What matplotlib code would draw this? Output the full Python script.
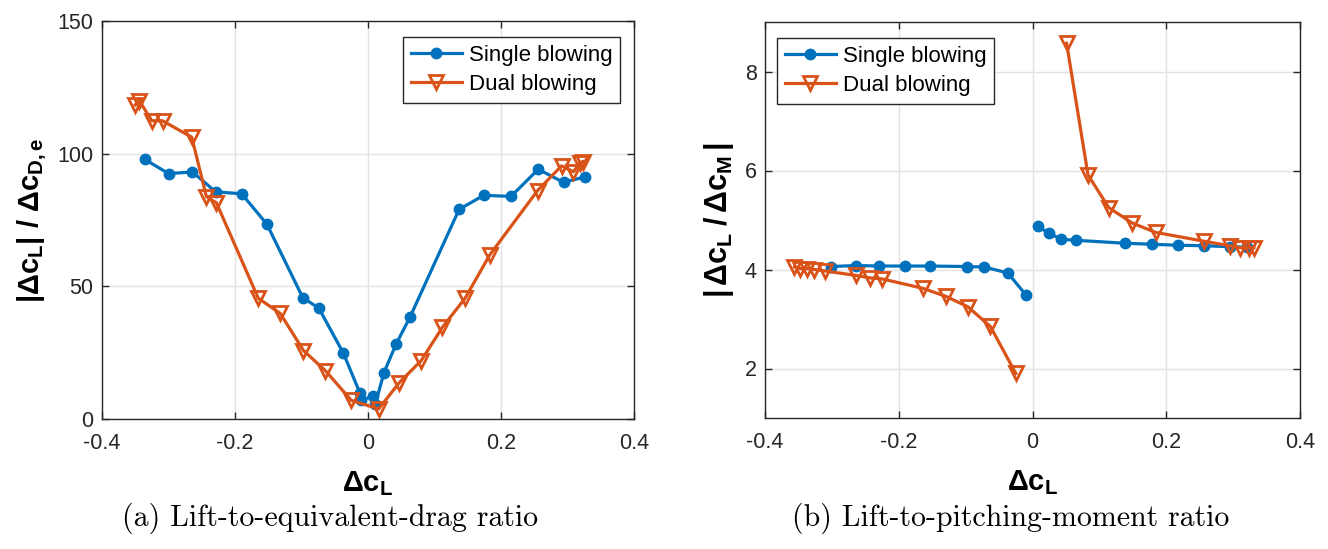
import numpy as np
import matplotlib
matplotlib.use("Agg")
import matplotlib.pyplot as plt

plt.rcParams['font.family'] = ['Liberation Sans', 'DejaVu Sans']
plt.rcParams['mathtext.fontset'] = 'custom'
plt.rcParams['mathtext.rm'] = 'Liberation Sans'
plt.rcParams['mathtext.bf'] = 'Liberation Sans:bold'
plt.rcParams['mathtext.it'] = 'Liberation Sans:italic'

BLUE = '#0072BD'
ORANGE = '#D95319'

# ---- Panel (a): lift-to-equivalent-drag ratio ----
a_single_x = [-0.336, -0.300, -0.264, -0.229, -0.190, -0.152, -0.098, -0.074, -0.037,
              -0.012, -0.010, 0.007, 0.011, 0.024, 0.042, 0.063, 0.137, 0.174, 0.215,
              0.256, 0.294, 0.327]
a_single_y = [97.9, 92.5, 93.1, 85.6, 84.9, 73.4, 45.7, 41.8, 24.8,
              9.7, 7.2, 8.5, 5.5, 17.5, 28.1, 38.3, 79.0, 84.3, 83.9,
              94.1, 89.2, 91.3]
a_dual_x = [-0.350, -0.344, -0.325, -0.309, -0.265, -0.243, -0.228, -0.165, -0.132,
            -0.097, -0.064, -0.025, 0.016, 0.047, 0.080, 0.112, 0.146, 0.183, 0.255,
            0.291, 0.309, 0.319, 0.323]
a_dual_y = [118.4, 120.0, 112.4, 112.4, 106.2, 83.8, 81.5, 45.5, 39.8,
            25.8, 18.2, 7.0, 3.8, 13.7, 22.0, 34.6, 45.5, 61.8, 86.1,
            95.4, 93.2, 96.6, 97.0]

# ---- Panel (b): lift-to-pitching-moment ratio (negative / positive branches) ----
b_single_neg_x = [-0.302, -0.264, -0.229, -0.190, -0.153, -0.098, -0.072, -0.037, -0.010]
b_single_neg_y = [4.06, 4.08, 4.07, 4.07, 4.07, 4.06, 4.05, 3.93, 3.49]
b_single_pos_x = [0.008, 0.025, 0.043, 0.065, 0.139, 0.178, 0.218, 0.257, 0.296, 0.321]
b_single_pos_y = [4.87, 4.73, 4.61, 4.59, 4.53, 4.51, 4.49, 4.48, 4.46, 4.45]
b_dual_neg_x = [-0.356, -0.347, -0.337, -0.326, -0.310, -0.264, -0.243, -0.225, -0.164,
                -0.130, -0.097, -0.063, -0.025]
b_dual_neg_y = [4.05, 4.02, 4.02, 4.00, 3.97, 3.88, 3.83, 3.81, 3.62,
                3.46, 3.25, 2.85, 1.90]
b_dual_pos_x = [0.051, 0.083, 0.114, 0.149, 0.184, 0.257, 0.295, 0.311, 0.324, 0.331]
b_dual_pos_y = [8.57, 5.91, 5.25, 4.94, 4.75, 4.57, 4.48, 4.44, 4.44, 4.44]

x_ticks = [-0.4, -0.2, 0, 0.2, 0.4]
x_tick_labels = ['-0.4', '-0.2', '0', '0.2', '0.4']
a_y_ticks = [0, 50, 100, 150]
b_y_ticks = [2, 4, 6, 8]
legend_labels = ['Single blowing', 'Dual blowing']
captions = ['(a) Lift-to-equivalent-drag ratio', '(b) Lift-to-pitching-moment ratio']

fig = plt.figure(figsize=(13.28, 5.49), dpi=100)
ax1 = fig.add_axes([102/1328, 1-419/549, 532/1328, 398/549])
ax2 = fig.add_axes([765/1328, 1-418/549, 535/1328, 396/549])

single_kw = dict(color=BLUE, lw=2.3, marker='o', ms=7.5, mfc=BLUE, mec=BLUE)
dual_kw = dict(color=ORANGE, lw=2.3, marker='v', ms=10.5, mfc='none', mec=ORANGE, mew=2.0)

ax1.plot(a_single_x, a_single_y, label=legend_labels[0], **single_kw)
ax1.plot(a_dual_x, a_dual_y, label=legend_labels[1], **dual_kw)

nan = [np.nan]
ax2.plot(b_single_neg_x + nan + b_single_pos_x, b_single_neg_y + nan + b_single_pos_y,
         label=legend_labels[0], **single_kw)
ax2.plot(b_dual_neg_x + nan + b_dual_pos_x, b_dual_neg_y + nan + b_dual_pos_y,
         label=legend_labels[1], **dual_kw)

for ax in (ax1, ax2):
    ax.set_xlim(-0.4, 0.4)
    ax.set_xticks(x_ticks)
    ax.set_xticklabels(x_tick_labels)
    ax.grid(True, color='#e3e3e3', lw=1.0)
    ax.set_axisbelow(True)
    ax.tick_params(direction='in', top=True, right=True, labelsize=15.5,
                   colors='#262626', length=5, width=1)
    ax.tick_params(axis='x', pad=10)
    ax.tick_params(axis='y', pad=6)
    for s in ax.spines.values():
        s.set_color('#262626')
        s.set_linewidth(1.0)
    ax.set_xlabel(r'$\mathbf{\Delta c_L}$', fontsize=21, labelpad=11)

ax1.set_ylim(0, 150)
ax1.set_yticks(a_y_ticks)
ax2.set_ylim(1, 9)
ax2.set_yticks(b_y_ticks)

ax1.set_ylabel(r'$\mathbf{|\Delta c_L|\ /\ \Delta c_{D,e}}$', fontsize=21, labelpad=6)
ax2.set_ylabel(r'$\mathbf{|\,\Delta c_L\;/\,\Delta c_M\,|}$', fontsize=22, labelpad=6)

leg_kw = dict(fontsize=16, handlelength=2.3, handletextpad=0.3, borderpad=0.35,
              labelspacing=0.38, borderaxespad=0.0, fancybox=False, framealpha=1,
              edgecolor='#262626')
l1 = ax1.legend(loc='upper right', bbox_to_anchor=(0.9737, 0.9598), **leg_kw)
l2 = ax2.legend(loc='upper left', bbox_to_anchor=(0.0224, 0.9596), **leg_kw)
for l in (l1, l2):
    l.get_frame().set_linewidth(1.0)

fig.text(330/1328, 1-518/549, captions[0], family='cmr10', fontsize=21.5,
         ha='center', va='center')
fig.text(1011/1328, 1-518/549, captions[1], family='cmr10', fontsize=21.5,
         ha='center', va='center')

fig.savefig('out.png', dpi=100)
